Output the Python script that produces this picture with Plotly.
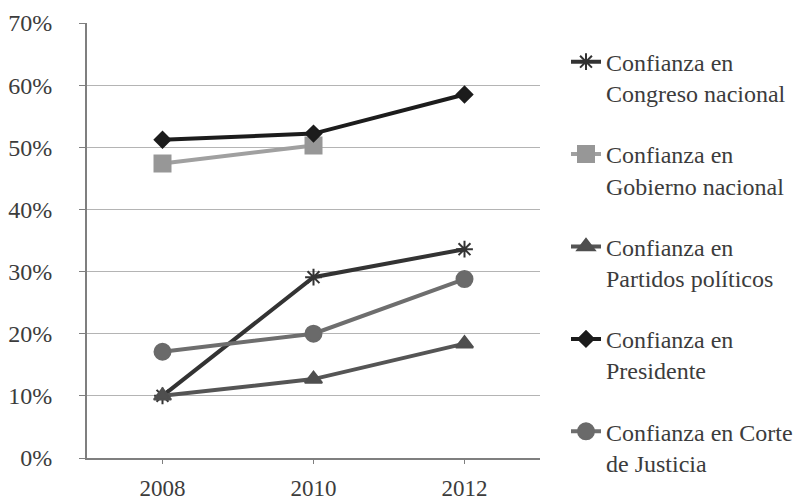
import plotly.graph_objects as go

years = ["2008", "2010", "2012"]

congreso = [0.100, 0.291, 0.336]
gobierno = [0.474, 0.503, None]
partidos = [0.100, 0.127, 0.184]
presidente = [0.512, 0.522, 0.585]
corte = [0.171, 0.200, 0.288]

names = [
    "Confianza en<br>Congreso nacional",
    "Confianza en<br>Gobierno nacional",
    "Confianza en<br>Partidos políticos",
    "Confianza en<br>Presidente",
    "Confianza en Corte<br>de Justicia",
]
series = [congreso, gobierno, partidos, presidente, corte]
line_colors = ["#333333", "#a0a0a0", "#555555", "#1c1c1c", "#6e6e6e"]
marker_colors = ["#333333", "#979797", "#4f4f4f", "#1c1c1c", "#6a6a6a"]
symbols = ["asterisk-open", "square", "triangle-up", "diamond", "circle"]
sizes = [14, 16, 15, 12, 16]

FONT = "Liberation Serif"
TEXT = "#3c3c3c"
W, H = 808, 501
PLOT_TOP, PLOT_BOTTOM = 23, 458  # pixel rows of the 70% and 0% lines

fig = go.Figure()
for i, (name, vals) in enumerate(zip(names, series)):
    fig.add_trace(go.Scatter(
        x=years, y=vals, name=name, mode="lines+markers",
        legendgroup=f"g{i}",
        line=dict(color=line_colors[i], width=4),
        marker=dict(symbol=symbols[i], size=sizes[i], color=marker_colors[i],
                    line=dict(color=marker_colors[i], width=2)),
        connectgaps=False,
    ))

fig.update_layout(
    width=W, height=H,
    margin=dict(l=87, r=268, t=0, b=0, autoexpand=False),
    paper_bgcolor="white", plot_bgcolor="white",
    font=dict(family=FONT, size=24, color=TEXT),
    showlegend=True,
    legend=dict(
        x=1.0574, xanchor="left", y=0.921, yanchor="top",
        valign="top", tracegroupgap=27,
        font=dict(family=FONT, size=24, color=TEXT),
        bgcolor="rgba(0,0,0,0)", itemclick=False,
    ),
    xaxis=dict(
        type="category", range=[-0.5, 2.5], automargin=False,
        showgrid=False, showline=True, linecolor="#7f7f7f", linewidth=2,
        ticks="outside", ticklen=4, tickcolor="#7f7f7f", tickwidth=1,
        ticklabelstandoff=4,
        tickfont=dict(family=FONT, size=23, color=TEXT),
    ),
    yaxis=dict(
        domain=[(H - PLOT_BOTTOM) / H, (H - PLOT_TOP) / H], automargin=False,
        range=[0, 0.7], dtick=0.1, tickformat=".0%",
        showgrid=True, gridcolor="#b4b4b4", gridwidth=1,
        showline=True, linecolor="#7f7f7f", linewidth=2,
        ticks="outside", ticklen=6, tickcolor="#7f7f7f", tickwidth=1,
        ticklabelstandoff=22, zeroline=False,
        tickfont=dict(family=FONT, size=24, color=TEXT),
    ),
)

fig.write_html("out.html")
